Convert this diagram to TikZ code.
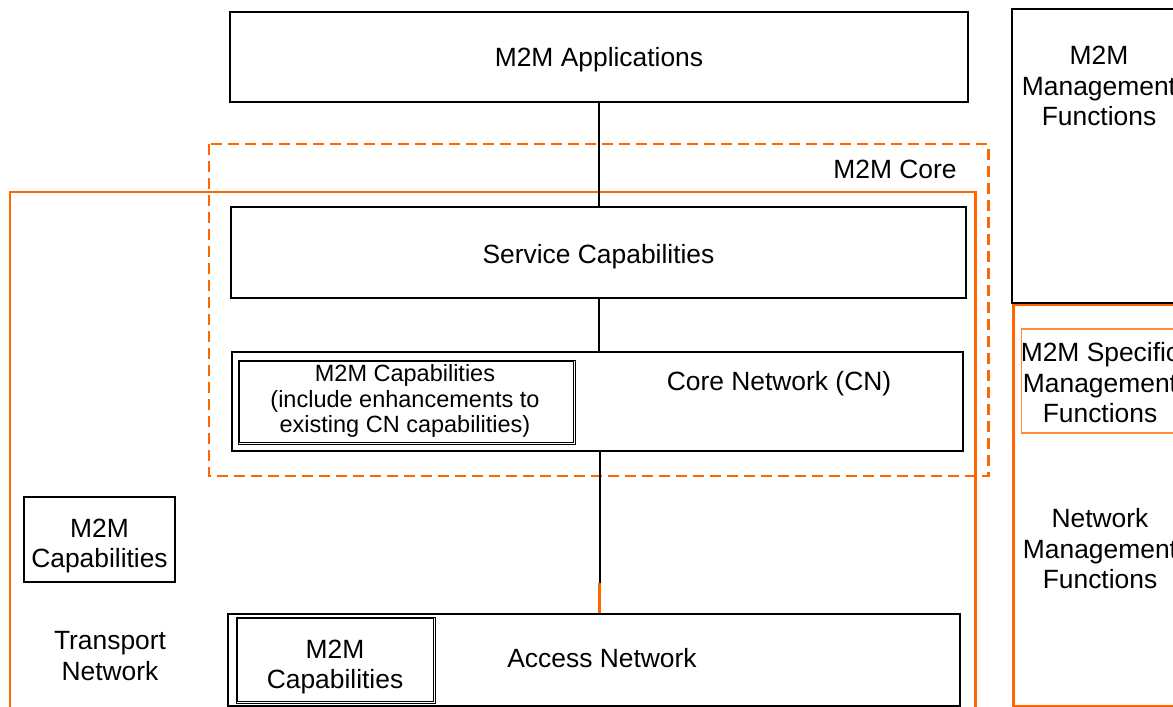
\documentclass[tikz,border=0pt]{standalone}
\usepackage{fontspec}
\setmainfont{Liberation Sans}
\definecolor{mor}{HTML}{FF6600}
\definecolor{morlight}{HTML}{FF8A40}
\newcommand\mfont{\fontsize{26.4}{30.5}\selectfont}
\newcommand\msmall{\fontsize{23.5}{25.8}\selectfont}
\begin{document}
\begin{tikzpicture}[x=1pt,y=-1pt,
  box/.style={draw=black, line width=1.8pt, rectangle, inner sep=0pt},
  dbox/.style={draw=black, line width=1pt, rectangle, inner sep=0pt},
  lbl/.style={align=center, font=\mfont, inner sep=0pt},
  link/.style={draw=black, line width=2pt},
  olink/.style={draw=mor, line width=2.4pt},
  orect/.style={draw=mor, line width=2.4pt},
  ocore/.style={draw=mor, line width=2.2pt, dash pattern=on 11pt off 6pt}]
\useasboundingbox (0,0) rectangle (1173,707);
\clip (0,0) rectangle (1173,707);

% transport network region and M2M core region
\draw[orect] (975.5,720) -- (975.5,192) -- (10,192) -- (10,720);
\draw[ocore] (209,144) rectangle (988.5,476);
\node[lbl] (corelbl) at (895,169) {M2M Core};

% main stack
\node[box, minimum width=738pt, minimum height=90pt] (apps) at (599,57) {};
\node[lbl] (appslbl) at (599,60) {M2M Applications};
\node[box, minimum width=735pt, minimum height=91pt] (svc) at (598.5,252.5) {};
\node[lbl] (svclbl) at (598.5,257) {Service Capabilities};
\node[box, minimum width=731pt, minimum height=99pt] (cn) at (597.5,401.5) {};
\node[lbl] (cnlbl) at (779,384) {Core Network (CN)};
\node[dbox, minimum width=337pt, minimum height=84pt] (cncap) at (406.5,402) {};
\draw[dbox] ([shift={(2.3,2.3)}]cncap.north west) rectangle ([shift={(-2.3,-2.3)}]cncap.south east);
\node[lbl, font=\msmall] (cncaplbl) at (405,401)
  {M2M Capabilities\\ (include enhancements to\\existing CN capabilities)};
\node[box, minimum width=732pt, minimum height=92pt] (acc) at (594,660) {};
\node[lbl] (acclbl) at (602,658) {Access Network};
\node[dbox, minimum width=199pt, minimum height=86pt] (acccap) at (335.5,660) {};
\draw[dbox] ([shift={(2.3,2.3)}]acccap.north west) rectangle ([shift={(-2.3,-2.3)}]acccap.south east);
\node[lbl] (acccaplbl) at (335,667) {M2M\\Capabilities};

% transport network labels
\node[box, line width=1.3pt, minimum width=151pt, minimum height=85pt] (tcap) at (99.5,539.5) {};
\node[lbl] (tcaplbl) at (99.5,546) {M2M\\Capabilities};
\node[lbl] (tnet) at (110,656) {Transport\\Network};

% connectors
\coordinate (spineA) at (598.5,0);
\coordinate (spineB) at (599.5,0);
\coordinate (ojoin) at (599.5,583);
\draw[link] (apps.south -| spineA) -- (svc.north -| spineA);
\draw[link] (svc.south -| spineA) -- (cn.north -| spineA);
\draw[link] (cn.south -| spineB) -- (acc.north -| spineB);
\draw[olink] (ojoin) -- (acc.north -| ojoin);
\coordinate (tickO) at (473,720);
\coordinate (tickK) at (764,720);
\draw[olink] (acc.south -| tickO) -- (tickO);
\draw[link, line width=1.3pt] (acc.south -| tickK) -- (tickK);

% management column
\node[box, minimum width=200pt, minimum height=294pt] (mgmt) at (1112,156) {};
\node[lbl] (mgmtlbl) at (1099,86) {M2M\\Management\\Functions};
\draw[orect] (1200,305) -- (1013.5,305) -- (1013.5,706) -- (1200,706);
\draw[draw=morlight, line width=1.8pt] (1200,329) -- (1021.5,329) -- (1021.5,433) -- (1200,433);
\node[lbl] (spec) at (1100,383) {M2M Specific\\Management\\Functions};
\node[lbl] (netm) at (1100,549) {Network\\Management\\Functions};
\end{tikzpicture}
\end{document}
